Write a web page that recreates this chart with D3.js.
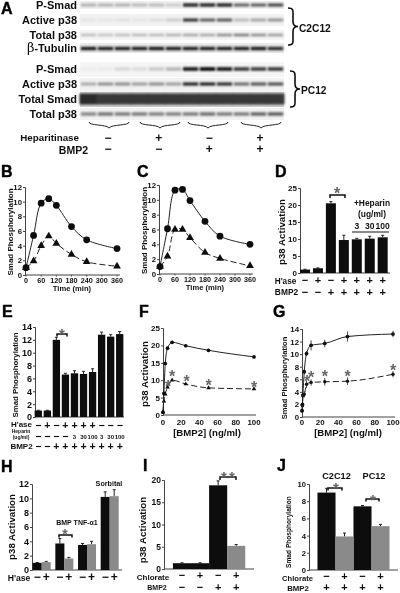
<!DOCTYPE html>
<html><head><meta charset="utf-8">
<script src="https://cdn.jsdelivr.net/npm/d3@7"></script>
<style>
html,body{margin:0;padding:0;background:#fff}
svg{display:block}
text{font-family:"Liberation Sans",Arial,sans-serif;font-weight:700;fill:#111}
</style></head><body>
<script>
// ---- data ----
const blotRows=[
 {label:"P-Smad",y:1,h:8,cy:5,bg:0.95,bh:3,v:[.34,.34,.34,.3,.3,.22,.95,.95,.95,.65,.68,.78]},
 {label:"Active p38",y:14,h:12,cy:20,bg:0.95,bh:3,v:[.08,.08,.1,.08,.12,.22,.85,.68,.7,.3,.38,.45]},
 {label:"Total p38",y:30,h:10,cy:35,bg:0.96,bh:2.6,v:[.28,.26,.28,.3,.3,.33,.38,.38,.48,.55,.48,.42]},
 {label:"β-Tubulin",y:43,h:10,cy:48.5,bg:0.92,bh:3.4,v:[.92,.9,.9,.9,.92,.9,.9,.9,.9,.9,.92,.85]},
 {label:"P-Smad",y:62,h:15,cy:69,bg:0.96,bh:3.6,v:[.02,.03,.15,.12,.22,.32,.95,1,.95,.8,.78,.8]},
 {label:"Active p38",y:78,h:13,cy:84,bg:0.95,bh:3.2,v:[.35,.45,.45,.4,.45,.4,.88,.9,.85,.6,.7,.72]},
 {label:"Total Smad",y:92,h:15,cy:99,bg:0.82,bh:11,v:[.84,.8,.8,.8,.8,.8,.8,.8,.8,.8,.8,.8]},
 {label:"Total p38",y:108,h:12,cy:114,bg:0.95,bh:3.4,v:[.5,.58,.55,.55,.52,.52,.55,.6,.55,.55,.65,.68]}];
const laneIdx=d3.range(12);
const groupHep=["−","+","−","+"], groupBmp=["−","−","+","+"];

const timeT=[0,30,60,90,120,180,240,360];
const timeTicks=[0,60,120,180,240,300,360];
const bCirc=[1,5.4,9.8,10.4,9.5,6.6,4.8,3.6];
const bTri=[1,1.9,4,5.3,4.3,2.8,1.8,1.2];
const cCirc=[1,6.1,11.3,11.4,9.9,7.1,5.1,4];
const cTri=[1,2.4,6,6,4.9,2.9,2.1,1.1];

const dVals=[1,1.4,20.5,9.7,9.9,10.1,10.5];
const dErr=[.1,.1,.5,1.4,.3,.7,.6];
const dHase=["−","+","−","+","+","+","+"];
const dBmp=["−","−","+","+","+","+","+"];
const dHep=["3","30","100"];

const eVals=[1,1,12,6.6,6.8,6.7,7,12.8,12.5,12.9];
const eErr=[.05,.05,.4,.2,.4,.4,.5,.4,.3,.4];
const eHase=["−","+","−","+","+","+","+","−","−","−"];
const eHep=["−","−","−","−","3","30","100","3","30","100"];
const eBmp=["−","−","+","+","+","+","+","+","+","+"];

const dose=[0,1,2.5,5,10,25,50,100];
const fTop=[.8,6.2,14.8,19.2,20.9,19.9,18.6,16.7];
const fBot=[.8,4,6,8,10,8.9,7.8,7.5];
const fStarDose=[5.5,10,26,50,100], fStarVal=[9.2,12.1,10.6,9.5,8.9];
const doseG=[0,.5,1,2.5,5,10,25,50,100];
const gTop=[1,2,3.5,7.2,10.1,11.4,11.7,12.8,13.2];
const gTopErr=[.1,.2,.3,.4,.4,.8,.6,.8,.5];
const gBot=[1,1.8,3.4,3.6,5.2,5.5,5.6,5.7,6.8];
const gBotErr=[.1,.2,.2,.5,.6,.5,.6,.6,.5];
const gStarDose=[5.5,10,25,50,100], gStarVal=[6.2,6.85,7,7,7.95];
const doseTicks=[0,20,40,60,80,100];

const hBlack=[1,3.7,3.5,10.2], hGray=[1.1,1.6,3.6,10.3];
const hBlackErr=[.05,.7,.2,.7], hGrayErr=[.1,.15,.4,.9];
const hSigns=["−","+","−","+","−","+","−","+"];

const iVals=[1.3,1.3,18.8,5.2], iErr=[.1,.1,1,.3];
const iChlor=["−","+","−","+"], iBmp=["−","−","+","+"];
const jVals=[9,3.9,7.4,5.1], jErr=[.5,.4,.1,.2];
const jChlor=["−","+","−","+"], jBmp=["+","+","+","+"];
const panelLetters=[["A",1,14],["B",1,177],["C",137,177],["D",275,177],["E",2,317],["F",139,317],["G",273,317],["H",1,472],["I",143,471],["J",277,471]];

// ---- helpers ----
const W=400,H=593;
const svg=d3.select("body").append("svg").attr("width",W).attr("height",H).attr("viewBox",`0 0 ${W} ${H}`);
const defs=svg.append("defs");
defs.append("filter").attr("id","soft").attr("x","-5%").attr("y","-5%").attr("width","110%").attr("height","110%")
  .append("feGaussianBlur").attr("stdDeviation",.45);
defs.append("filter").attr("id","band").attr("x","-20%").attr("y","-80%").attr("width","140%").attr("height","260%")
  .append("feGaussianBlur").attr("stdDeviation",.8);
const root=svg.append("g").attr("filter","url(#soft)");

function txt(x,y,s,size,anchor="middle",fill="#111",rot=null){
  const t=root.append("text").attr("x",x).attr("y",y).attr("font-size",size).attr("text-anchor",anchor).style("fill",fill).text(s);
  if(rot!==null)t.attr("transform",`rotate(${rot} ${x} ${y})`);
  return t;
}
function axes(xr,yr,yDom,yTicks,fs,opts={}){
  const y=d3.scaleLinear().domain(yDom).range(yr);
  const ga=root.append("g").attr("transform",`translate(${xr[0]},0)`)
    .call(d3.axisLeft(y).tickValues(yTicks).tickSize(2).tickPadding(opts.pad??1).tickFormat(d3.format("d")));
  ga.selectAll("text").attr("font-size",fs);
  ga.selectAll("line,path").attr("stroke","#444");
  root.append("line").attr("x1",xr[0]).attr("x2",xr[1]).attr("y1",yr[0]).attr("y2",yr[0]).attr("stroke","#444");
  return y;
}
function bandScale(n,first,last,barW){
  const step=(last-first)/(n-1);
  return d3.scaleBand().domain(d3.range(n)).range([first-step/2,last+step/2]).paddingInner(1-barW/step).paddingOuter((1-barW/step)/2);
}
function bars(idx,vals,errs,x,y,color,ec="#222"){
  idx.forEach(i=>{
    const v=vals[i],cx=x(i)+x.bandwidth()/2;
    root.append("line").attr("x1",cx).attr("x2",cx).attr("y1",y(v)).attr("y2",y(v+errs[i])).attr("stroke",ec).attr("stroke-width",1);
    root.append("line").attr("x1",cx-1.5).attr("x2",cx+1.5).attr("y1",y(v+errs[i])).attr("y2",y(v+errs[i])).attr("stroke",ec).attr("stroke-width",1);
    root.append("rect").attr("x",x(i)).attr("y",y(v)).attr("width",x.bandwidth()).attr("height",y(0)-y(v)).attr("fill",color);
  });
}
function signs(arr,x,yp,fs=11){
  arr.forEach((s,i)=>txt(x(i)+x.bandwidth()/2,yp,s,fs));
}
function bracket(x1,x2,y,drop=3){
  root.append("path").attr("d",`M${x1},${y+drop}V${y}H${x2}V${y+drop}`).attr("fill","none").attr("stroke","#111").attr("stroke-width",1.5);
}
function star(x,cy,fs=16,fill="#666"){txt(x,cy+.58*fs,"*",fs,"middle",fill);}
function series(xs,ys,x,y,dash,curve,marker,size){
  const line=d3.line().x((d,i)=>x(xs[i])).y(d=>y(d)).curve(curve);
  root.append("path").attr("d",line(ys)).attr("fill","none").attr("stroke","#222").attr("stroke-width",1).attr("stroke-dasharray",dash);
  const sym=d3.symbol().type(marker).size(size);
  ys.forEach((v,i)=>root.append("path").attr("d",sym()).attr("transform",`translate(${x(xs[i])},${y(v)})`).attr("fill","#0b0b0b"));
}

// ---- panel letters ----
panelLetters.forEach(([s,x,y])=>txt(x,y,s,16,"start","#000").attr("stroke","#000").attr("stroke-width",.4));

// ---- panel A ----
const laneX=d3.scaleBand().domain(laneIdx).range([80,284]);
blotRows.forEach(r=>{
  const c=Math.round(255*r.bg);
  root.append("rect").attr("x",80).attr("y",r.y).attr("width",204).attr("height",r.h).attr("fill",d3.rgb(c,c,c));
  const g=root.append("g").attr("filter","url(#band)");
  const inset=r.bh>8?-.5:.8;
  r.v.forEach((v,i)=>{
    g.append("rect").attr("x",laneX(i)+inset).attr("y",r.cy-r.bh/2).attr("width",laneX.bandwidth()-2*inset).attr("height",r.bh)
     .attr("fill",d3.interpolateGreys(.12+.88*v));
  });
  const t=txt(77,r.cy+3.8,r.label,11,"end");
  if(r.label.startsWith("β")){t.text(null);t.append("tspan").attr("font-size",13).style("font-family","'DejaVu Serif'").style("font-weight",400).text("β");t.append("tspan").text("-Tubulin");}
});
function brace(x,y0,y1){
  const m=(y0+y1)/2;
  root.append("path").attr("d",`M${x},${y0}C${x+6},${y0} ${x+5},${y0+3} ${x+5},${y0+8}V${m-5}C${x+5},${m-2} ${x+7},${m} ${x+10},${m}C${x+7},${m} ${x+5},${m+2} ${x+5},${m+5}V${y1-8}C${x+5},${y1-3} ${x+6},${y1} ${x},${y1}`)
   .attr("fill","none").attr("stroke","#111").attr("stroke-width",1.6);
}
brace(288,8,45); txt(299,32,"C2C12",10.2,"start");
brace(290,71,107); txt(301,94,"PC12",10.2,"start");
[89,140,188,241].forEach(a=>{
  const b=a+40, m=(a+b)/2, y=122;
  root.append("path").attr("d",`M${a},${y}C${a},${y+4} ${m-3},${y+2} ${m},${y+6}C${m+3},${y+2} ${b},${y+4} ${b},${y}`).attr("fill","none").attr("stroke","#222").attr("stroke-width",1);
});
txt(79,141,"Heparitinase",9.8,"end"); txt(88,154,"BMP2",10.5,"end");
const groupX=d3.scalePoint().domain(d3.range(4)).range([108,260]);
groupHep.forEach((s,i)=>txt(groupX(i),141.5,s,12));
groupBmp.forEach((s,i)=>txt(groupX(i),153,s,12));

// ---- panels B, C ----
function timePanel(xr,yr,circ,tri,ylx,ttx){
  const y=axes([xr[0]-1,xr[1]+3],yr,[0,12],[0,2,4,6,8,10,12],7.8);
  const x=d3.scaleLinear().domain([0,360]).range(xr);
  timeTicks.forEach(t=>{
    txt(x(t),yr[0]+8,t,7.2);
    root.append("line").attr("x1",x(t)).attr("x2",x(t)).attr("y1",yr[0]).attr("y2",yr[0]+1.5).attr("stroke","#444");
  });
  series(timeT,tri,x,y,"6,3",d3.curveCatmullRom,d3.symbolTriangle,26);
  series(timeT,circ,x,y,null,d3.curveCatmullRom,d3.symbolCircle,36);
  txt(ylx,(yr[0]+yr[1])/2+1,"Smad Phosphorylation",8,"middle","#111",-90);
  txt(ttx,yr[0]+15.5,"Time (min)",7.6);
}
timePanel([26,117],[275,187],bCirc,bTri,13,72);
timePanel([160,250],[274,185],cCirc,cTri,147,205);

// ---- panel D ----
{
  const y=axes([300,390],[273,188],[0,25],[0,5,10,15,20,25],8);
  const x=bandScale(7,305,382.7,10);
  bars(d3.range(7),dVals,dErr,x,y,"#0a0a0a");
  txt(285,232,"p38 Activation",9.7,"middle","#111",-90);
  bracket(330,345,195); star(337,190);
  txt(372,206,"+Heparin",8.4);txt(372,217,"(ug/ml)",8.4);
  dHep.forEach((s,i)=>txt(x(i+4)+x.bandwidth()/2,229,s,8.5));
  root.append("line").attr("x1",352).attr("x2",389).attr("y1",232).attr("y2",232).attr("stroke","#111").attr("stroke-width",1.2);
  txt(285.5,283.5,"H'ase",8.2); txt(286.5,294.5,"BMP2",8.4);
  signs(dHase,x,284); signs(dBmp,x,296);
}

// ---- panel E ----
{
  const y=axes([35,124],[417,327],[0,14],[0,2,4,6,8,10,12,14],9);
  const x=bandScale(10,38.3,119.7,7.3);
  bars(d3.range(10),eVals,eErr,x,y,"#0a0a0a");
  txt(18,375,"Smad Phosphorylation",7.8,"middle","#111",-90);
  bracket(57,67,334,2.5); star(62,330,15);
  txt(21.5,427,"H'ase",8);txt(21,433,"Heparin",5);txt(21,439,"(ug/ml)",5);txt(21.5,449,"BMP2",8);
  signs(eHase,x,428.5,10.5);
  eHep.forEach((s,i)=>txt(x(i)+x.bandwidth()/2,/\d/.test(s)?439:439.5,s,/\d/.test(s)?6:10.5));
  signs(eBmp,x,450,10.5);
}

// ---- panel F ----
{
  const y=axes([163,256],[415,328],[0,25],[0,5,10,15,20,25],8);
  const x=d3.scaleLinear().domain([0,100]).range([163,254]);
  doseTicks.forEach(t=>txt(x(t),425,t,7.9));
  series(dose,fBot,x,y,"6,3",d3.curveMonotoneX,d3.symbolTriangle,9);
  series(dose,fTop,x,y,null,d3.curveMonotoneX,d3.symbolCircle,11);
  fStarDose.forEach((d,i)=>star(x(d),y(fStarVal[i])));
  txt(148,374,"p38 Activation",9.7,"middle","#111",-90);
  txt(207,436,"[BMP2] (ng/ml)",9.6);
}

// ---- panel G ----
{
  const y=axes([302,395],[417,329],[0,14],[0,2,4,6,8,10,12,14],7.8);
  const x=d3.scaleLinear().domain([0,100]).range([302,393]);
  doseTicks.forEach(t=>txt(x(t),425,t,7.9));
  series(doseG,gBot,x,y,"6,3",d3.curveMonotoneX,d3.symbolCircle,9);
  series(doseG,gTop,x,y,null,d3.curveMonotoneX,d3.symbolCircle,11);
  const errBars=(xs,ys,es)=>ys.forEach((v,i)=>root.append("line").attr("x1",x(xs[i])).attr("x2",x(xs[i])).attr("y1",y(v-es[i])).attr("y2",y(v+es[i])).attr("stroke","#222").attr("stroke-width",.8));
  errBars(doseG,gTop,gTopErr);errBars(doseG,gBot,gBotErr);
  gStarDose.forEach((d,i)=>star(x(d),y(gStarVal[i])));
  txt(287,378,"Smad Phosphorylation",7.6,"middle","#111",-90);
  txt(348,435.5,"[BMP2] (ng/ml)",9.6);
}

// ---- panel H ----
{
  const y=axes([32,122],[570,484],[0,12],[0,2,4,6,8,10,12],9);
  const blackPos=d3.scalePoint().domain(d3.range(4)).range([32.7,100.7]);
  const black=Object.assign(i=>blackPos(i),{bandwidth:()=>9});
  const gray=Object.assign(i=>blackPos(i)+9,{bandwidth:()=>9});
  bars(d3.range(4),hBlack,hBlackErr,black,y,"#0a0a0a");
  bars(d3.range(4),hGray,hGrayErr,gray,y,"#8a8a8a");
  txt(15,527,"p38 Activation",9.7,"middle","#111",-90);
  txt(109,486,"Sorbital",7.2);
  txt(77,525,"BMP TNF-α1",7);
  bracket(59,72,535,2.5); star(65,531,14);
  txt(19,581,"H'ase",8.6);
  hSigns.forEach((s,i)=>txt(i%2?gray((i-1)/2)+4.5:black(i/2)+4.5,581,s,12));
}

// ---- panel I ----
{
  const y=axes([164,254],[569,480],[0,20],[0,5,10,15,20],8.5);
  const x=bandScale(4,182,236.2,18.1);
  bars([0,1,2],iVals,iErr,x,y,"#0a0a0a");
  bars([3],iVals,iErr,x,y,"#8a8a8a");
  txt(146,530,"p38 Activation",9.8,"middle","#111",-90);
  bracket(220,236,477,3); star(224,473,15);star(232,473,15);
  txt(153,580,"Chlorate",8);txt(157,590,"BMP2",7);
  signs(iChlor,x,579);
  signs(iBmp,x,590.5);
}

// ---- panel J ----
{
  const y=axes([309,398],[570,484],[0,10],[0,2,4,6,8,10],7.6);
  const x=bandScale(4,326.5,380.5,18);
  bars([0,2],jVals,jErr,x,y,"#0a0a0a");
  bars([1,3],jVals,jErr,x,y,"#8a8a8a");
  txt(291,532,"Smad Phosphorylation",6.6,"middle","#111",-90);
  txt(336.5,479,"C2C12",9.2);txt(374,479,"PC12",9.2);
  bracket(328,342,488,2.5); bracket(366,379,499,2.5);
  star(336,484,15); star(373,496,15);
  txt(297.5,581,"Chlorate",7.6);txt(298,590.5,"BMP2",7.8);
  signs(jChlor,x,580); signs(jBmp,x,590.5);
}
</script>
</body></html>
